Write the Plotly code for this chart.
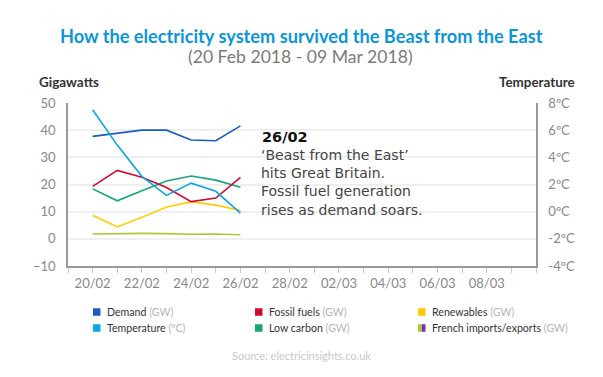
import plotly.graph_objects as go

dates = ["2018-02-20", "2018-02-21", "2018-02-22", "2018-02-23", "2018-02-24", "2018-02-25", "2018-02-26"]
demand = [37.7, 38.9, 40.0, 40.0, 36.4, 36.1, 41.6]
fossil = [19.3, 25.2, 22.7, 18.9, 13.7, 15.0, 22.6]
low_carbon = [18.4, 14.0, 17.7, 21.3, 23.1, 21.6, 19.0]
renewables = [8.7, 4.4, 7.9, 11.7, 13.6, 12.4, 10.4]
french = [1.8, 2.0, 2.0, 1.9, 1.7, 1.8, 1.5]
temperature = [7.5, 4.9, 2.6, 1.2, 2.1, 1.5, -0.1]

x_tick_vals = ["2018-02-20", "2018-02-22", "2018-02-24", "2018-02-26", "2018-02-28",
               "2018-03-02", "2018-03-04", "2018-03-06", "2018-03-08"]
x_tick_text = ["20/02", "22/02", "24/02", "26/02", "28/02", "02/03", "04/03", "06/03", "08/03"]
y_ticks = [-10, 0, 10, 20, 30, 40, 50]
t_ticks = [-4, -2, 0, 2, 4, 6, 8]
t_text = ["-4ºC", "-2ºC", "0ºC", "2ºC", "4ºC", "6ºC", "8ºC"]

callout_title = "26/02"
callout_lines = ["‘Beast from the East’", "hits Great Britain.",
                 "Fossil fuel generation", "rises as demand soars."]

C_DEMAND = "#1a5cc0"
C_TEMP = "#0aa8e0"
C_FOSSIL = "#d20a2e"
C_LOW = "#17a57b"
C_REN = "#ffcc00"
C_FR = "#a9c936"
C_FR2 = "#7b2fa0"

FONT = "Lato"
OFF = 8  # page body margin
W, H = 603 - OFF, 377 - OFF
# plot area in window pixels
L, R, T, B = 68, 536, 103, 266

def px(x):
    return (x - L) / (R - L)

def py(y):
    return (B - y) / (B - T)

fig = go.Figure()
fig.add_trace(go.Scatter(x=dates, y=french, mode="lines", line=dict(color=C_FR, width=1.6), name="French"))
fig.add_trace(go.Scatter(x=dates, y=renewables, mode="lines", line=dict(color=C_REN, width=1.6), name="Renewables"))
fig.add_trace(go.Scatter(x=dates, y=low_carbon, mode="lines", line=dict(color=C_LOW, width=1.6), name="Low carbon"))
fig.add_trace(go.Scatter(x=dates, y=fossil, mode="lines", line=dict(color=C_FOSSIL, width=1.6), name="Fossil"))
fig.add_trace(go.Scatter(x=dates, y=demand, mode="lines", line=dict(color=C_DEMAND, width=1.6), name="Demand"))
fig.add_trace(go.Scatter(x=dates, y=temperature, mode="lines", line=dict(color=C_TEMP, width=1.6),
                         name="Temperature", yaxis="y2"))

ann = []
shapes = []
ann.append(dict(text="<b>How the electricity system survived the Beast from the East</b>",
                x=px(301.5), y=py(36), xref="paper", yref="paper", showarrow=False,
                font=dict(family=FONT, size=18.2, color="#0d95d9"), xanchor="center", yanchor="middle"))
ann.append(dict(text="(20 Feb 2018 - 09 Mar 2018)", x=px(300.5), y=py(56), xref="paper", yref="paper",
                showarrow=False, font=dict(family=FONT, size=17.6, color="#7a7a7a"),
                xanchor="center", yanchor="middle", height=20))
ann.append(dict(text="<b>Gigawatts</b>", x=px(37), y=py(82), xref="paper", yref="paper", showarrow=False,
                font=dict(family=FONT, size=13.5, color="#333333"), xanchor="left", yanchor="middle"))
ann.append(dict(text="<b>Temperature</b>", x=px(577), y=py(82), xref="paper", yref="paper", showarrow=False,
                font=dict(family=FONT, size=13.4, color="#333333"), xanchor="right", yanchor="middle"))
ann.append(dict(text=f"<b>{callout_title}</b>", x=px(260), y=py(137), xref="paper", yref="paper",
                showarrow=False, font=dict(family="DejaVu Sans", size=14.5, color="#111111"),
                xanchor="left", yanchor="middle", height=16))
ann.append(dict(text="<br>".join(callout_lines), x=px(259), y=py(182), xref="paper", yref="paper",
                showarrow=False, font=dict(family="DejaVu Sans", size=14, color="#444444"),
                xanchor="left", yanchor="middle", align="left"))

legend_items = [
    ("Demand", "(GW)", C_DEMAND, None, 93, 312),
    ("Temperature", "(ºC)", C_TEMP, None, 93, 328),
    ("Fossil fuels", "(GW)", C_FOSSIL, None, 255, 312),
    ("Low carbon", "(GW)", C_LOW, None, 255, 328),
    ("Renewables", "(GW)", C_REN, None, 418, 312),
    ("French imports/exports", "(GW)", C_FR, C_FR2, 418, 328),
]
for name, unit, col, col2, lx, ly in legend_items:
    s = 7.5
    if col2 is None:
        shapes.append(dict(type="rect", xref="paper", yref="paper", x0=px(lx), x1=px(lx + s),
                           y0=py(ly - s / 2), y1=py(ly + s / 2), fillcolor=col, line=dict(width=0)))
    else:
        shapes.append(dict(type="rect", xref="paper", yref="paper", x0=px(lx), x1=px(lx + s / 2),
                           y0=py(ly - s / 2), y1=py(ly + s / 2), fillcolor=col, line=dict(width=0)))
        shapes.append(dict(type="rect", xref="paper", yref="paper", x0=px(lx + s / 2), x1=px(lx + s),
                           y0=py(ly - s / 2), y1=py(ly + s / 2), fillcolor=col2, line=dict(width=0)))
    ann.append(dict(text=f"{name} <span style='color:#b5b5b5'>{unit}</span>", x=px(lx + 12), y=py(ly),
                    xref="paper", yref="paper", showarrow=False,
                    font=dict(family=FONT, size=10.6, color="#333333"), xanchor="left", yanchor="middle"))

ann.append(dict(text="Source: electricinsights.co.uk", x=px(301), y=py(355), xref="paper", yref="paper",
                showarrow=False, font=dict(family=FONT, size=11, color="#c8c8c8"),
                xanchor="center", yanchor="middle"))

fig.update_layout(
    width=W, height=H,
    margin=dict(l=L - OFF, r=603 - R, t=T - OFF, b=377 - B, pad=0),
    paper_bgcolor="white", plot_bgcolor="white",
    showlegend=False,
    font=dict(family=FONT, color="#888888", size=12.5),
    xaxis=dict(type="date", range=["2018-02-19", "2018-03-10"], tickvals=x_tick_vals, ticktext=x_tick_text,
               showgrid=False, showline=True, linecolor="#999999", linewidth=1.5,
               ticks="outside", ticklen=5, tickcolor="#cccccc", tickwidth=1,
               minor=dict(dtick=86400000, ticks="outside", ticklen=5, tickcolor="#cccccc", showgrid=False),
               tickfont=dict(size=13, color="#888888"), zeroline=False, fixedrange=True),
    yaxis=dict(range=[-10, 50], tickvals=y_ticks, showgrid=True, gridcolor="#efefef", gridwidth=2,
               showline=True, linecolor="#999999", linewidth=1.5, zeroline=False,
               ticks="", ticklabelstandoff=8, tickfont=dict(size=13, color="#888888")),
    yaxis2=dict(range=[-4, 8], tickvals=t_ticks, ticktext=t_text, overlaying="y", side="right",
                showgrid=False, showline=True, linecolor="#999999", linewidth=1.5, zeroline=False,
                ticks="", ticklabelstandoff=8, tickfont=dict(size=13, color="#888888")),
    annotations=ann, shapes=shapes,
)

fig.write_html("out.html")
